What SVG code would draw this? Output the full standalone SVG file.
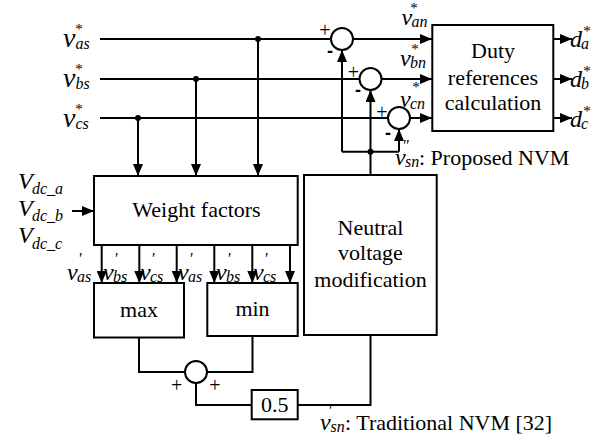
<svg xmlns="http://www.w3.org/2000/svg" width="611" height="442" viewBox="0 0 611 442">
<style>
text{font-family:"Liberation Serif","Times New Roman",serif;fill:#000}
.t{font-size:22px}
.c{text-anchor:middle}
.vb{font-size:28px;font-style:italic}
.v{font-size:24px;font-style:italic}
.s{font-size:16px;font-style:italic}
.st{font-size:15px;font-style:normal}
.pl{font-size:20px;text-anchor:middle}
.mi{font-family:"Liberation Sans",Arial,sans-serif;font-size:18px;font-weight:bold;text-anchor:middle}
.box{fill:#fff;stroke:#000;stroke-width:2}
.ln{fill:none;stroke:#000;stroke-width:2}
.ar{fill:none;stroke:#000;stroke-width:2;marker-end:url(#ah)}
</style>
<defs>
<marker id="ah" markerUnits="userSpaceOnUse" markerWidth="12" markerHeight="10" refX="12" refY="5" orient="auto">
<path d="M0,0 L12,5 L0,10 z" fill="#000"/>
</marker>
</defs>
<rect width="611" height="442" fill="#fff"/>

<g id="connectors">
<path class="ln" d="M100,39 H331"/>
<path class="ar" d="M353,39 H432"/>
<path class="ln" d="M100,79 H359.5"/>
<path class="ar" d="M381.5,79 H432"/>
<path class="ln" d="M100,118 H388"/>
<path class="ar" d="M410,118 H432"/>
<path class="ar" d="M258,39 V176"/>
<path class="ar" d="M196,79 V176"/>
<path class="ar" d="M138,118 V176"/>
<circle cx="258" cy="39" r="3"/>
<circle cx="196" cy="79" r="3"/>
<circle cx="138" cy="118" r="3"/>
<path class="ar" d="M72,211 H94"/>
<path class="ar" d="M101.7,245 V283"/>
<path class="ar" d="M139.3,245 V283"/>
<path class="ar" d="M176.7,245 V283"/>
<path class="ar" d="M214.3,245 V283"/>
<path class="ar" d="M252.3,245 V283"/>
<path class="ar" d="M290,245 V283"/>
<path class="ln" d="M139,337 V372 H185"/>
<path class="ln" d="M252.5,337 V372 H207"/>
<path class="ln" d="M196,383 V405 H251.7"/>
<path class="ln" d="M297.7,405 H370.5 V335"/>
<path class="ln" d="M370.5,175 V151.7"/>
<path class="ln" d="M342,151.7 H399"/>
<path class="ar" d="M342,151.7 V50"/>
<path class="ar" d="M370.5,151.7 V90"/>
<path class="ar" d="M399,151.7 V129"/>
<circle cx="370.5" cy="151.7" r="3"/>
<path class="ar" d="M553.3,39 H572"/>
<path class="ar" d="M553.3,79 H572"/>
<path class="ar" d="M553.3,118 H572"/>
</g>

<g id="sum1"><circle class="box" cx="342" cy="39" r="11"/>
<text class="pl" x="325" y="37">+</text><text class="mi" x="330" y="57">-</text></g>
<g id="sum2"><circle class="box" cx="370.5" cy="79" r="11"/>
<text class="pl" x="353.5" y="78.5">+</text><text class="mi" x="358" y="96">-</text></g>
<g id="sum3"><circle class="box" cx="399" cy="118" r="11"/>
<text class="pl" x="382" y="118.5">+</text><text class="mi" x="388" y="138.5">-</text></g>
<g id="sum4"><circle class="box" cx="196" cy="372" r="11"/>
<text class="pl" x="176.7" y="392">+</text><text class="pl" x="215" y="392">+</text></g>

<g id="duty"><rect class="box" x="432.3" y="25" width="121" height="106"/>
<text class="t c" x="493" y="58">Duty</text>
<text class="t c" x="493" y="85">references</text>
<text class="t c" x="493" y="110">calculation</text></g>

<g id="weight"><rect class="box" x="94" y="176" width="203.7" height="69"/>
<text class="t c" x="196.5" y="217">Weight factors</text></g>

<g id="max"><rect class="box" x="94" y="283" width="90" height="54.5"/>
<text class="t c" x="139" y="317">max</text></g>
<g id="min"><rect class="box" x="207.3" y="283" width="90.4" height="53"/>
<text class="t c" x="252.5" y="316">min</text></g>

<g id="gain"><rect class="box" x="251.7" y="390" width="46" height="29.3"/>
<text class="t c" x="274.7" y="412">0.5</text></g>

<g id="nvm"><rect class="box" x="304" y="175" width="132.7" height="160"/>
<text class="t c" x="370.5" y="235">Neutral</text>
<text class="t c" x="370.5" y="260">voltage</text>
<text class="t c" x="370.5" y="287">modification</text></g>

<g id="labels">
<text x="63" y="46.5"><tspan class="vb">v</tspan><tspan class="s" x="75.5" y="48.5">as</tspan><tspan class="st" x="75.3" y="34">*</tspan></text>
<text x="63" y="86.5"><tspan class="vb">v</tspan><tspan class="s" x="75.5" y="88.5">bs</tspan><tspan class="st" x="75.3" y="74">*</tspan></text>
<text x="63" y="126.5"><tspan class="vb">v</tspan><tspan class="s" x="75.5" y="128.5">cs</tspan><tspan class="st" x="75.3" y="114">*</tspan></text>

<text x="401.5" y="25"><tspan class="v">v</tspan><tspan class="s" x="411.5" y="27">an</tspan><tspan class="st" x="410.3" y="13">*</tspan></text>
<text x="400" y="66"><tspan class="v">v</tspan><tspan class="s" x="410" y="68">bn</tspan><tspan class="st" x="411.3" y="54">*</tspan></text>
<text x="400" y="107"><tspan class="v">v</tspan><tspan class="s" x="410" y="109">cn</tspan><tspan class="st" x="412.3" y="92">*</tspan></text>

<text x="570" y="46.5"><tspan class="v">d</tspan><tspan class="s" x="581" y="49">a</tspan><tspan class="st" x="583.3" y="35.5">*</tspan></text>
<text x="570" y="86.5"><tspan class="v">d</tspan><tspan class="s" x="581" y="89">b</tspan><tspan class="st" x="583.3" y="75.5">*</tspan></text>
<text x="570" y="126.5"><tspan class="v">d</tspan><tspan class="s" x="581" y="129">c</tspan><tspan class="st" x="583.3" y="115.5">*</tspan></text>

<text x="18" y="188.5"><tspan class="v">V</tspan><tspan class="s" x="32" y="194">dc_a</tspan></text>
<text x="18" y="215.5"><tspan class="v">V</tspan><tspan class="s" x="32" y="221">dc_b</tspan></text>
<text x="18" y="243"><tspan class="v">V</tspan><tspan class="s" x="32" y="248.5">dc_c</tspan></text>

<text x="67" y="280"><tspan class="v">v</tspan><tspan class="s" x="77" y="282">as</tspan><tspan class="s" x="78" y="264">'</tspan></text>
<text x="103" y="280"><tspan class="v">v</tspan><tspan class="s" x="113" y="282">bs</tspan><tspan class="s" x="114" y="264">'</tspan></text>
<text x="140" y="280"><tspan class="v">v</tspan><tspan class="s" x="150" y="282">cs</tspan><tspan class="s" x="151" y="264">'</tspan></text>
<text x="178" y="280"><tspan class="v">v</tspan><tspan class="s" x="188" y="282">as</tspan><tspan class="s" x="189" y="264">'</tspan></text>
<text x="216" y="280"><tspan class="v">v</tspan><tspan class="s" x="226" y="282">bs</tspan><tspan class="s" x="227" y="264">'</tspan></text>
<text x="253" y="280"><tspan class="v">v</tspan><tspan class="s" x="263" y="282">cs</tspan><tspan class="s" x="264" y="264">'</tspan></text>

<text x="395" y="165"><tspan class="v">v</tspan><tspan class="s" x="405" y="167">sn</tspan><tspan class="s" x="402" y="151">"</tspan><tspan class="t" x="419" y="165" style="font-style:normal">: Proposed NVM</tspan></text>

<text x="320" y="430"><tspan class="v">v</tspan><tspan class="s" x="330.5" y="432">sn</tspan><tspan class="s" x="328" y="416">'</tspan><tspan class="t" x="345" y="430" style="font-style:normal">: Traditional NVM [32]</tspan></text>
</g>
</svg>
